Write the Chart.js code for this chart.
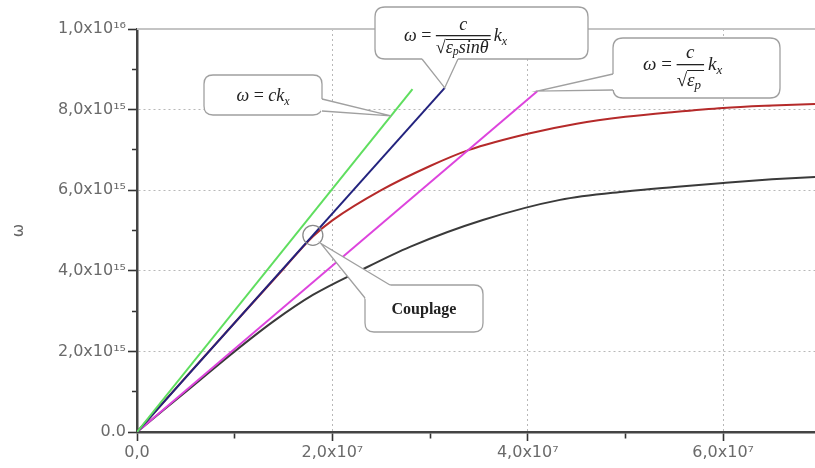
<!DOCTYPE html>
<html><head><meta charset="utf-8">
<script src="https://cdn.jsdelivr.net/npm/chart.js@4"></script>
<style>html,body{margin:0;padding:0;background:#fff;}#wrap{width:815px;height:468px;position:relative;}</style>
</head><body><div id="wrap"><canvas id="c" width="815" height="468"></canvas></div>
<script>
// ---- data ----
const xMajorTicks = [0, 2e7, 4e7, 6e7];
const xTickLabels = ['0,0', '2,0x10⁷', '4,0x10⁷', '6,0x10⁷'];
const yMajorTicks = [0, 2e15, 4e15, 6e15, 8e15, 1e16];
const yTickLabels = ['0.0', '2,0x10¹⁵', '4,0x10¹⁵', '6,0x10¹⁵', '8,0x10¹⁵', '1,0x10¹⁶'];
const xMinorTicks = [0, 1e7, 2e7, 3e7, 4e7, 5e7, 6e7];
const yMinorTicks = [0, 1e15, 2e15, 3e15, 4e15, 5e15, 6e15, 7e15, 8e15, 9e15, 1e16];

// light line  ω = c kx
const lightK = [0, 2.82e7];
const lightW = [0, 8.51e15];
// ω = c / sqrt(εp sinθ) kx
const obliqueK = [0, 3.15e7];
const obliqueW = [0, 8.54e15];
// ω = c / sqrt(εp) kx
const mediumK = [0, 4.10e7];
const mediumW = [0, 8.46e15];
// upper (red) branch
const upperK = [0, 0.5e7, 1.0e7, 1.5e7, 1.8e7, 2.0e7, 2.5e7, 3.0e7, 3.4e7, 4.0e7, 4.5e7, 5.0e7, 5.5e7, 6.0e7, 6.5e7, 6.94e7];
const upperW = [0, 1.36e15, 2.71e15, 4.05e15, 4.85e15, 5.25e15, 6.0e15, 6.6e15, 7.0e15, 7.4e15, 7.65e15, 7.82e15, 7.94e15, 8.04e15, 8.1e15, 8.14e15];
// lower (black) branch
const lowerK = [0, 0.5e7, 1.0e7, 1.4e7, 1.8e7, 2.28e7, 2.8e7, 3.54e7, 4.33e7, 5.0e7, 5.5e7, 6.0e7, 6.5e7, 6.94e7];
const lowerW = [0, 1.0e15, 2.0e15, 2.75e15, 3.4e15, 4.0e15, 4.6e15, 5.26e15, 5.76e15, 5.97e15, 6.08e15, 6.18e15, 6.27e15, 6.33e15];
// coupling point
const couplingK = 1.8e7;
const couplingW = 4.88e15;

const xMax = 6.94e7, yMax = 1e16;

const pts = (k, w) => k.map((v, i) => ({x: v, y: w[i]}));
const isMajor = (v, arr) => arr.some(t => Math.abs(t - v) < 1);
const labelOf = (v, arr, labels) => { const i = arr.findIndex(t => Math.abs(t - v) < 1); return i >= 0 ? labels[i] : ''; };

function roundRect(ctx, x, y, w, h, r) {
  ctx.beginPath();
  ctx.moveTo(x + r, y); ctx.lineTo(x + w - r, y); ctx.quadraticCurveTo(x + w, y, x + w, y + r);
  ctx.lineTo(x + w, y + h - r); ctx.quadraticCurveTo(x + w, y + h, x + w - r, y + h);
  ctx.lineTo(x + r, y + h); ctx.quadraticCurveTo(x, y + h, x, y + h - r);
  ctx.lineTo(x, y + r); ctx.quadraticCurveTo(x, y, x + r, y); ctx.closePath();
}
function callout(ctx, bx, by, bw, bh, r, b1, b2, tip) {
  ctx.save();
  ctx.lineWidth = 1.3; ctx.strokeStyle = '#a0a0a0'; ctx.fillStyle = '#fff';
  roundRect(ctx, bx, by, bw, bh, r); ctx.fill(); ctx.stroke();
  ctx.beginPath(); ctx.moveTo(b1[0], b1[1]); ctx.lineTo(tip[0], tip[1]); ctx.lineTo(b2[0], b2[1]); ctx.closePath(); ctx.fill();
  ctx.strokeStyle = '#fff'; ctx.lineWidth = 3;
  ctx.beginPath(); ctx.moveTo(b1[0], b1[1]); ctx.lineTo(b2[0], b2[1]); ctx.stroke();
  ctx.strokeStyle = '#a0a0a0'; ctx.lineWidth = 1.3;
  ctx.beginPath(); ctx.moveTo(b1[0], b1[1]); ctx.lineTo(tip[0], tip[1]); ctx.lineTo(b2[0], b2[1]); ctx.stroke();
  ctx.restore();
}
function t(ctx, s, x, y, font) { ctx.font = font; ctx.fillText(s, x, y); return ctx.measureText(s).width; }
function w(ctx, s, font) { ctx.font = font; return ctx.measureText(s).width; }

const annot = {
  id: 'annot',
  beforeDatasetsDraw(chart) {
    const {ctx, chartArea: ca} = chart;
    ctx.save();
    ctx.strokeStyle = '#c4c4c4'; ctx.lineWidth = 2;
    ctx.beginPath(); ctx.moveTo(ca.left, ca.top); ctx.lineTo(ca.right, ca.top); ctx.stroke();
    ctx.restore();
  },
  afterDatasetsDraw(chart) {
    const {ctx, scales: {x, y}} = chart;
    const P = (k, v) => [x.getPixelForValue(k), y.getPixelForValue(v)];
    const IT = s => 'italic ' + s + 'px "Liberation Serif", serif';
    const RM = s => s + 'px "Liberation Serif", serif';
    ctx.save();
    ctx.fillStyle = '#222'; ctx.textAlign = 'left'; ctx.textBaseline = 'alphabetic';

    // circle at coupling
    const cp = P(couplingK, couplingW);
    ctx.strokeStyle = '#8a8a8a'; ctx.lineWidth = 1.3;
    ctx.beginPath(); ctx.arc(cp[0], cp[1], 10, 0, Math.PI * 2); ctx.stroke();

    // box 1 : ω = c kx
    const g = P(2.6e7, 2.6e7 * lightW[1] / lightK[1]);
    callout(ctx, 204, 75, 118, 40, 9, [322, 99], [322, 111], g);
    {
      const f = IT(18), fs = IT(12), fr = RM(18);
      const tot = w(ctx, 'ω', f) + w(ctx, ' = ', fr) + w(ctx, 'ck', f) + w(ctx, 'x', fs);
      let cx = 263 - tot / 2; const by = 101;
      ctx.fillStyle = '#222';
      cx += t(ctx, 'ω', cx, by, f); cx += t(ctx, ' = ', cx, by, fr); cx += t(ctx, 'ck', cx, by, f); t(ctx, 'x', cx, by + 4, fs);
    }

    // box 2 : ω = c / sqrt(εp sinθ) kx
    const b = P(obliqueK[1], obliqueW[1]);
    callout(ctx, 375, 7, 213, 52, 10, [422, 59], [458, 59], b);
    {
      const f = IT(18), fs = IT(12), fr = RM(18);
      let cx = 404; const by = 41;
      cx += t(ctx, 'ω', cx, by, f); cx += t(ctx, ' = ', cx, by, fr);
      const denW = w(ctx, '√', fr) + w(ctx, 'ε', f) + w(ctx, 'p', fs) + w(ctx, 'sinθ', f) + 2;
      const fx = cx;
      ctx.fillRect(fx, by - 6, denW, 1.3);
      t(ctx, 'c', fx + denW / 2 - w(ctx, 'c', f) / 2, by - 11, f);
      let dx = fx;
      dx += t(ctx, '√', dx, by + 12, fr);
      ctx.fillRect(dx, by - 2, fx + denW - dx, 1);
      dx += t(ctx, 'ε', dx, by + 12, f); dx += t(ctx, 'p', dx, by + 14, fs); t(ctx, 'sinθ', dx, by + 12, f);
      cx = fx + denW + 3;
      cx += t(ctx, 'k', cx, by, f); t(ctx, 'x', cx, by + 4, fs);
    }

    // box 3 : ω = c / sqrt(εp) kx
    const m = P(mediumK[1], mediumW[1]);
    callout(ctx, 613, 38, 167, 60, 10, [613, 74], [613, 90], m);
    {
      const f = IT(19), fs = IT(13), fr = RM(19);
      let cx = 643; const by = 70;
      cx += t(ctx, 'ω', cx, by, f); cx += t(ctx, ' = ', cx, by, fr);
      const denW = w(ctx, '√', fr) + w(ctx, 'ε', f) + w(ctx, 'p', fs) + 3;
      const fx = cx;
      ctx.fillRect(fx, by - 6, denW, 1.3);
      t(ctx, 'c', fx + denW / 2 - w(ctx, 'c', f) / 2, by - 12, f);
      let dx = fx;
      dx += t(ctx, '√', dx, by + 16, fr);
      ctx.fillRect(dx, by, fx + denW - dx, 1);
      dx += t(ctx, 'ε', dx, by + 16, f); t(ctx, 'p', dx, by + 19, fs);
      cx = fx + denW + 4;
      cx += t(ctx, 'k', cx, by, f); t(ctx, 'x', cx, by + 4, fs);
    }

    // Couplage box
    callout(ctx, 365, 285, 118, 47, 9, [365, 298], [390, 285], [cp[0] + 8, cp[1] + 8]);
    ctx.fillStyle = '#222';
    ctx.font = 'bold 16px "Liberation Serif", serif'; ctx.textAlign = 'center';
    ctx.fillText('Couplage', 424, 314);
    ctx.restore();
  }
};

const common = {fill: false, pointRadius: 0, borderWidth: 2, showLine: true};
new Chart(document.getElementById('c'), {
  type: 'scatter',
  data: {
    datasets: [
      Object.assign({label: 'ω = c kx', data: pts(lightK, lightW), borderColor: '#5fde5f'}, common),
      Object.assign({label: 'ω = c/√(εp sinθ) kx', data: pts(obliqueK, obliqueW), borderColor: '#23237e'}, common),
      Object.assign({label: 'ω = c/√εp kx', data: pts(mediumK, mediumW), borderColor: '#dd44dd'}, common),
      Object.assign({label: 'upper', data: pts(upperK, upperW), borderColor: '#b52a2a', cubicInterpolationMode: 'monotone'}, common),
      Object.assign({label: 'lower', data: pts(lowerK, lowerW), borderColor: '#3a3a3a', cubicInterpolationMode: 'monotone'}, common)
    ]
  },
  options: {
    responsive: false, animation: false,
    layout: {padding: {top: 29, right: 0, bottom: 0, left: 0}},
    plugins: {legend: {display: false}, tooltip: {enabled: false}},
    scales: {
      x: {
        type: 'linear', min: 0, max: xMax,
        afterBuildTicks: s => { s.ticks = xMinorTicks.map(v => ({value: v})); },
        afterFit: s => { s.height = 36; },
        border: {color: '#444', width: 2.5, dash: [2, 3]},
        grid: {
          color: c => (c.tick && c.tick.value > 0 && isMajor(c.tick.value, xMajorTicks)) ? '#b8b8b8' : 'rgba(0,0,0,0)',
          lineWidth: 1, tickLength: 9, tickColor: '#333', tickWidth: 1.6,
          tickBorderDash: c => (c.tick && isMajor(c.tick.value, xMajorTicks)) ? [] : [5, 100]
        },
        ticks: {autoSkip: false, maxRotation: 0, padding: 2, color: '#6a6a6a',
          font: {family: '"DejaVu Sans", sans-serif', size: 16},
          callback: v => labelOf(v, xMajorTicks, xTickLabels)}
      },
      y: {
        type: 'linear', min: 0, max: yMax,
        afterBuildTicks: s => { s.ticks = yMinorTicks.map(v => ({value: v})); },
        afterFit: s => { s.width = 137; },
        border: {color: '#444', width: 2.5, dash: [2, 3]},
        grid: {
          color: c => (c.tick && c.tick.value > 0 && c.tick.value < yMax - 1 && isMajor(c.tick.value, yMajorTicks)) ? '#b8b8b8' : 'rgba(0,0,0,0)',
          lineWidth: 1, tickLength: 9, tickColor: '#333', tickWidth: 1.6,
          tickBorderDash: c => (c.tick && isMajor(c.tick.value, yMajorTicks)) ? [] : [0, 4, 5, 100]
        },
        ticks: {autoSkip: false, padding: 2, color: '#6a6a6a',
          font: {family: '"DejaVu Sans", sans-serif', size: 16},
          callback: v => labelOf(v, yMajorTicks, yTickLabels)},
        title: {display: true, text: 'ω', color: '#666', padding: {top: 9, bottom: 0},
          font: {family: '"DejaVu Sans", sans-serif', size: 16}}
      }
    }
  },
  plugins: [annot]
});
</script></body></html>
